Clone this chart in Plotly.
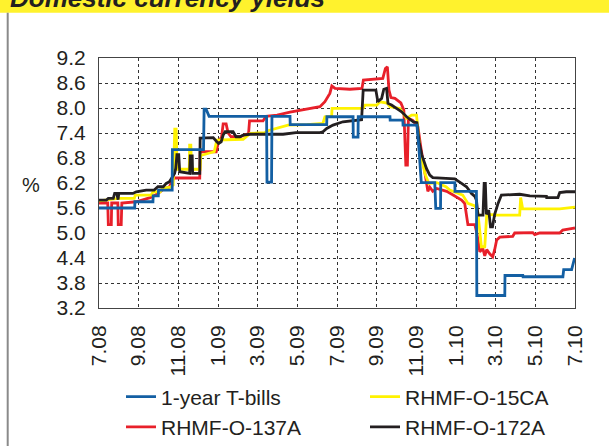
import plotly.graph_objects as go

# x values: months since July 2008 (0 = 7.08, 24 = 7.10)
tick_vals = [0, 2, 4, 6, 8, 10, 12, 14, 16, 18, 20, 22, 24]
tick_text = ["7.08", "9.08", "11.08", "1.09", "3.09", "5.09", "7.09",
             "9.09", "11.09", "1.10", "3.10", "5.10", "7.10"]
y_ticks = [3.2, 3.8, 4.4, 5.0, 5.6, 6.2, 6.8, 7.4, 8.0, 8.6, 9.2]

tbill_x = [0.00, 1.80, 1.81, 2.72, 2.73, 2.99, 3.00, 3.69, 3.70, 5.27, 5.30, 5.40, 5.55,
           8.45, 8.47, 8.70, 8.72, 9.63, 9.64, 11.48, 11.49, 12.81, 12.82, 13.06, 13.07,
           14.67, 14.68, 15.32, 15.33, 16.03, 16.13, 16.25, 16.93, 16.98, 17.22, 17.23,
           17.94, 17.95, 19.03, 19.05, 20.46, 20.47, 21.37, 21.38, 23.39, 23.43, 23.83, 23.98]
tbill_y = [5.60, 5.60, 5.75, 5.75, 5.89, 5.89, 6.03, 6.03, 7.00, 7.00, 7.97, 7.97, 7.80,
           7.80, 6.22, 6.22, 7.80, 7.80, 7.60, 7.60, 7.79, 7.79, 7.30, 7.30, 7.79,
           7.79, 7.71, 7.71, 7.59, 7.59, 7.03, 6.21, 6.21, 5.59, 5.59, 6.21,
           6.21, 6.00, 6.00, 3.50, 3.50, 3.98, 3.98, 3.95, 3.95, 4.12, 4.12, 4.40]

r137_x = [0.00, 0.44, 0.47, 0.62, 0.64, 0.95, 0.97, 1.12, 1.15, 1.88, 2.58, 2.99, 3.24,
          3.54, 3.69, 3.79, 5.08, 5.10, 5.91, 6.03, 6.18, 6.26, 6.41, 6.51, 6.66, 7.11,
          7.37, 7.54, 7.59, 8.27, 8.42, 8.98, 9.63, 10.14, 10.64, 11.14, 11.39, 11.49,
          11.64, 11.74, 11.90, 12.65, 13.26, 13.33, 14.01, 14.31, 14.44, 14.54, 14.62,
          14.72, 14.92, 15.22, 15.37, 15.47, 15.55, 15.60, 15.82, 16.08, 16.23, 16.43,
          16.58, 16.68, 16.83, 17.03, 17.53, 17.79, 18.04, 18.28, 18.44, 18.60, 18.95,
          19.05, 19.20, 19.35, 19.45, 19.55, 19.70, 19.85, 19.95, 20.05, 20.21, 20.86,
          20.96, 21.87, 21.97, 22.22, 23.23, 23.38, 23.88, 24.00]
r137_y = [5.72, 5.72, 5.20, 5.20, 5.72, 5.72, 5.20, 5.20, 5.72, 5.75, 5.85, 5.95, 6.05,
          6.10, 6.25, 6.32, 6.32, 6.95, 6.95, 7.20, 7.30, 7.62, 7.62, 7.40, 7.31, 7.31,
          7.36, 7.38, 7.69, 7.69, 7.80, 7.83, 7.90, 7.94, 7.98, 8.03, 8.15, 8.23,
          8.35, 8.53, 8.47, 8.45, 8.47, 8.67, 8.70, 8.71, 8.95, 8.99, 8.43,
          8.25, 8.23, 8.12, 7.95, 6.63, 6.63, 7.75, 7.70, 7.55, 7.05, 6.47,
          6.00, 6.10, 6.00, 6.07, 6.00, 5.93, 5.85, 5.79, 5.71, 5.20, 5.20,
          5.00, 4.55, 4.63, 4.45, 4.60, 4.50, 4.43, 4.60, 4.83, 4.90, 4.92,
          5.00, 5.01, 4.96, 5.00, 5.00, 5.07, 5.11, 5.12]

r15_x = [0.00, 0.57, 0.97, 1.78, 1.83, 2.63, 2.73, 3.09, 3.19, 3.59, 3.74, 3.82, 3.89,
         3.94, 4.55, 4.57, 4.63, 4.67, 5.10, 5.13, 5.81, 5.94, 7.27, 7.62, 8.37, 8.47,
         9.53, 10.49, 11.29, 11.39, 11.73, 11.75, 13.31, 13.41, 14.01, 14.16, 14.52,
         14.67, 15.17, 15.51, 15.76, 16.01, 16.18, 16.43, 16.63, 17.03, 17.49, 17.69,
         18.34, 18.60, 18.95, 19.10, 19.28, 19.45, 19.55, 20.10, 21.21, 21.26, 21.36,
         23.23, 24.00]
r15_y = [5.77, 5.80, 5.83, 5.83, 5.91, 5.91, 5.99, 5.99, 6.07, 6.10, 6.15, 7.49, 7.49,
         6.53, 6.53, 7.11, 7.11, 6.53, 6.53, 6.86, 6.95, 7.23, 7.25, 7.39, 7.41, 7.45,
         7.59, 7.60, 7.63, 7.79, 7.80, 7.99, 7.99, 8.07, 8.07, 8.15, 8.12,
         8.03, 7.99, 7.75, 7.83, 7.83, 6.99, 6.43, 6.19, 6.21, 6.11, 6.03,
         5.91, 5.71, 5.65, 5.50, 4.67, 4.67, 5.45, 5.43, 5.43, 5.85, 5.58,
         5.58, 5.62]

r172_x = [0.00, 0.37, 0.47, 0.72, 0.79, 0.90, 0.96, 1.00, 1.71, 1.88, 2.38, 2.78, 2.97,
          3.24, 3.39, 3.55, 3.81, 3.87, 3.93, 4.02, 4.07, 4.57, 4.60, 4.70, 4.72, 5.08,
          5.10, 5.65, 5.76, 5.94, 6.03, 6.16, 6.26, 6.36, 6.76, 6.91, 7.11, 7.27, 7.62,
          9.28, 9.63, 9.93, 11.14, 11.29, 11.48, 11.80, 12.30, 12.75, 13.24, 13.32,
          13.96, 14.06, 14.25, 14.36, 14.50, 14.57, 14.75, 15.00, 15.26, 15.51, 15.84,
          16.03, 16.15, 16.28, 16.39, 16.51, 16.68, 16.83, 17.49, 17.94, 18.28, 18.53,
          18.78, 18.95, 19.03, 19.11, 19.36, 19.42, 19.48, 19.53, 19.65, 19.74, 19.84,
          19.95, 20.12, 20.29, 21.21, 21.72, 22.56, 22.57, 23.14, 23.23, 23.56, 24.00]
r172_y = [5.79, 5.79, 5.83, 5.83, 5.95, 5.95, 5.80, 5.95, 5.95, 5.99, 6.03, 6.03, 6.11,
          6.11, 6.19, 6.23, 6.43, 6.55, 6.88, 6.88, 6.47, 6.43, 6.85, 6.85, 6.43, 6.43,
          7.28, 7.28, 7.29, 7.19, 7.15, 7.19, 7.35, 7.43, 7.43, 7.31, 7.31, 7.35, 7.37,
          7.37, 7.40, 7.41, 7.41, 7.43, 7.51, 7.59, 7.67, 7.70, 7.72, 8.43,
          8.43, 8.15, 8.23, 8.45, 8.47, 8.11, 8.07, 7.99, 7.91, 7.79, 7.67,
          7.65, 7.15, 6.87, 6.71, 6.55, 6.39, 6.33, 6.31, 6.30, 6.19, 6.11,
          5.95, 5.88, 5.79, 5.43, 5.43, 6.19, 6.19, 5.45, 5.55, 5.15, 5.15,
          5.45, 5.71, 5.91, 5.93, 5.89, 5.88, 5.85, 5.85, 5.97, 5.99, 5.99]

names = ["1-year T-bills", "RHMF-O-137A", "RHMF-O-15CA", "RHMF-O-172A"]
colors = {"1-year T-bills": "#135fa3", "RHMF-O-15CA": "#fff200",
          "RHMF-O-137A": "#e8202a", "RHMF-O-172A": "#231f20"}
series = {"1-year T-bills": (tbill_x, tbill_y), "RHMF-O-15CA": (r15_x, r15_y),
          "RHMF-O-137A": (r137_x, r137_y), "RHMF-O-172A": (r172_x, r172_y)}
legend_of = {"1-year T-bills": "legend", "RHMF-O-137A": "legend",
             "RHMF-O-15CA": "legend2", "RHMF-O-172A": "legend2"}
draw_order = ["RHMF-O-137A", "RHMF-O-15CA", "RHMF-O-172A", "1-year T-bills"]

FONT = "Liberation Sans"
fig = go.Figure()
for nm in draw_order:
    xs, ys = series[nm]
    fig.add_trace(go.Scatter(x=xs, y=ys, mode="lines", name=nm,
                             line=dict(color=colors[nm], width=2.8),
                             legend=legend_of[nm],
                             legendrank=names.index(nm) + 1))

leg_common = dict(orientation="v", xref="container", yref="container",
                  xanchor="left", yanchor="top", traceorder="normal",
                  font=dict(family=FONT, size=21, color="#231f20"),
                  bgcolor="rgba(0,0,0,0)", itemwidth=30)

fig.update_layout(
    width=609, height=446,
    margin=dict(l=99, r=34, t=58, b=138, autoexpand=False),
    paper_bgcolor="white", plot_bgcolor="white",
    font=dict(family=FONT, size=20, color="#231f20"),
    showlegend=True,
    legend=dict(x=121 / 609, y=0.156, **leg_common),
    legend2=dict(x=365 / 609, y=0.156, **leg_common),
    xaxis=dict(range=[0, 24], tickmode="array", tickvals=tick_vals, ticktext=tick_text,
               tickangle=-90, showgrid=True, gridcolor="#333333", griddash="dot",
               gridwidth=1, showline=True, linecolor="#444444", linewidth=1, mirror=True,
               ticks="", zeroline=False, tickfont=dict(family=FONT, size=21),
               ticklabelstandoff=8),
    yaxis=dict(range=[3.2, 9.2], tickmode="array", tickvals=y_ticks,
               ticktext=[f"{v:.1f}" for v in y_ticks],
               showgrid=True, gridcolor="#333333", griddash="dot", gridwidth=1,
               showline=True, linecolor="#444444", linewidth=1, mirror=True,
               ticks="", zeroline=False, tickfont=dict(family=FONT, size=21),
               ticklabelstandoff=8),
)

# header bar and left frame line
fig.add_shape(type="rect", xref="paper", yref="paper", x0=-0.3, x1=1.2, y0=1.181, y1=1.5,
              fillcolor="#fff22d", line=dict(width=0), layer="below")
fig.add_shape(type="line", xref="paper", yref="paper", x0=-0.1918, x1=-0.1918,
              y0=1.181, y1=-0.6, line=dict(color="#8a8a8a", width=2))
fig.add_annotation(text="<b><i>Domestic currency yields</i></b>", xref="paper", yref="paper",
                   x=-0.192, y=1.172, xanchor="left", yanchor="bottom", showarrow=False,
                   font=dict(family=FONT, size=26, color="#231f20"))
fig.add_annotation(text="%", xref="paper", yref="paper", x=-0.142, y=0.492,
                   xanchor="center", yanchor="middle", showarrow=False,
                   font=dict(family=FONT, size=20, color="#231f20"))

fig.write_html("out.html", config={"displayModeBar": False},
               post_script="document.body.style.margin='0';")
